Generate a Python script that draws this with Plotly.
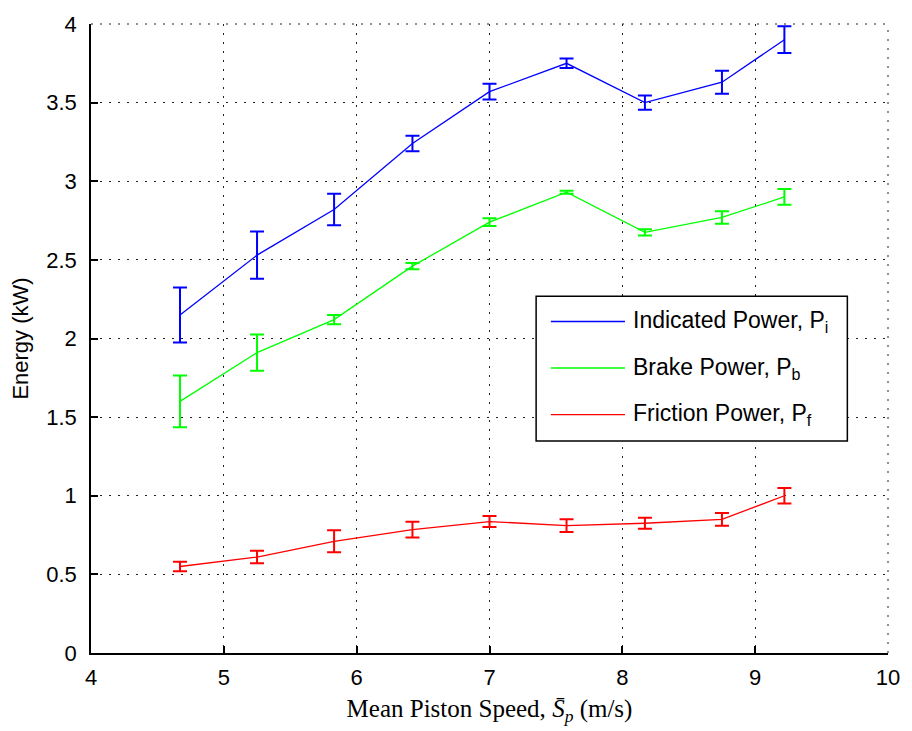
import plotly.graph_objects as go

# Mean piston speed (m/s) at each test point
speed = [4.67, 5.25, 5.83, 6.42, 7.0, 7.58, 8.17, 8.75, 9.22]

# Power measurements (kW) and their error half-widths
indicated = [2.15, 2.53, 2.82, 3.24, 3.57, 3.75, 3.50, 3.63, 3.90]
indicated_err = [0.175, 0.15, 0.10, 0.05, 0.05, 0.03, 0.045, 0.073, 0.085]

brake = [1.60, 1.91, 2.12, 2.46, 2.74, 2.93, 2.675, 2.77, 2.90]
brake_err = [0.165, 0.115, 0.03, 0.02, 0.025, 0.01, 0.02, 0.04, 0.05]

friction = [0.55, 0.61, 0.71, 0.785, 0.836, 0.81, 0.825, 0.85, 1.0]
friction_err = [0.03, 0.04, 0.07, 0.05, 0.035, 0.04, 0.035, 0.04, 0.05]

series = [
    ("Indicated Power, P<sub>i</sub>", indicated, indicated_err, "#0000FF"),
    ("Brake Power, P<sub>b</sub>", brake, brake_err, "#00FF00"),
    ("Friction Power, P<sub>f</sub>", friction, friction_err, "#FF0000"),
]

fig = go.Figure()
for name, vals, errs, color in series:
    fig.add_trace(go.Scatter(
        x=speed, y=vals, name=name, mode="lines",
        line=dict(color=color, width=1.3),
        error_y=dict(type="data", array=errs, visible=True,
                     color=color, thickness=2, width=7),
        showlegend=False, cliponaxis=True,
    ))

sans = "Liberation Sans, Arial, sans-serif"
tick_font = dict(family=sans, size=22, color="black")
grid_dash = "2px,7px"
grid_color = "#222"

fig.update_xaxes(
    range=[4, 10], tickvals=[4, 5, 6, 7, 8, 9, 10],
    showline=True, linecolor="black", linewidth=1.5, mirror=False,
    ticks="inside", ticklen=7, tickcolor="black", tickwidth=1.5,
    showgrid=True, gridcolor=grid_color, gridwidth=1, griddash=grid_dash,
    zeroline=False, tickfont=tick_font, ticklabelstandoff=4,
    title=dict(text="Mean Piston Speed, <i>S̄</i><sub><i>p</i></sub> (m/s)",
               font=dict(family="Liberation Serif, Times New Roman, serif",
                         size=25, color="black"),
               standoff=10),
)
fig.update_yaxes(
    range=[0, 4], tickvals=[0, 0.5, 1, 1.5, 2, 2.5, 3, 3.5, 4],
    ticktext=["0", "0.5", "1", "1.5", "2", "2.5", "3", "3.5", "4"],
    showline=True, linecolor="black", linewidth=1.5, mirror=False,
    ticks="inside", ticklen=7, tickcolor="black", tickwidth=1.5,
    showgrid=True, gridcolor=grid_color, gridwidth=1, griddash=grid_dash,
    zeroline=False, tickfont=tick_font, ticklabelstandoff=8,
    title=dict(text="Energy (kW)", font=dict(family=sans, size=22, color="black"),
               standoff=12),
)

# Dotted grid lines along the top and right edges of the plot area
shapes = [
    dict(type="line", xref="paper", yref="paper", layer="below",
         x0=0, x1=1, y0=1, y1=1, line=dict(color=grid_color, width=1, dash=grid_dash)),
    dict(type="line", xref="paper", yref="paper", layer="below",
         x0=1, x1=1, y0=0, y1=1, line=dict(color=grid_color, width=1, dash=grid_dash)),
]

# Legend box drawn in paper coordinates
box = dict(x0=0.5585, x1=0.949, y0=0.337, y1=0.567)
rows_y = [0.527, 0.453, 0.379]
shapes.append(dict(type="rect", xref="paper", yref="paper", layer="above",
                   fillcolor="white", line=dict(color="black", width=1.5), **box))
annotations = []
for (name, _, _, color), yy in zip(series, rows_y):
    shapes.append(dict(type="line", xref="paper", yref="paper", layer="above",
                       x0=0.577, x1=0.670, y0=yy, y1=yy,
                       line=dict(color=color, width=1.4)))
    annotations.append(dict(xref="paper", yref="paper", x=0.678, y=yy,
                            xanchor="left", yanchor="middle", showarrow=False,
                            text=name, font=dict(family=sans, size=23, color="black")))

fig.update_layout(
    width=912, height=731,
    margin=dict(l=91, r=17, t=18, b=78),
    paper_bgcolor="white", plot_bgcolor="white",
    shapes=shapes, annotations=annotations,
)

fig.write_html("out.html")
